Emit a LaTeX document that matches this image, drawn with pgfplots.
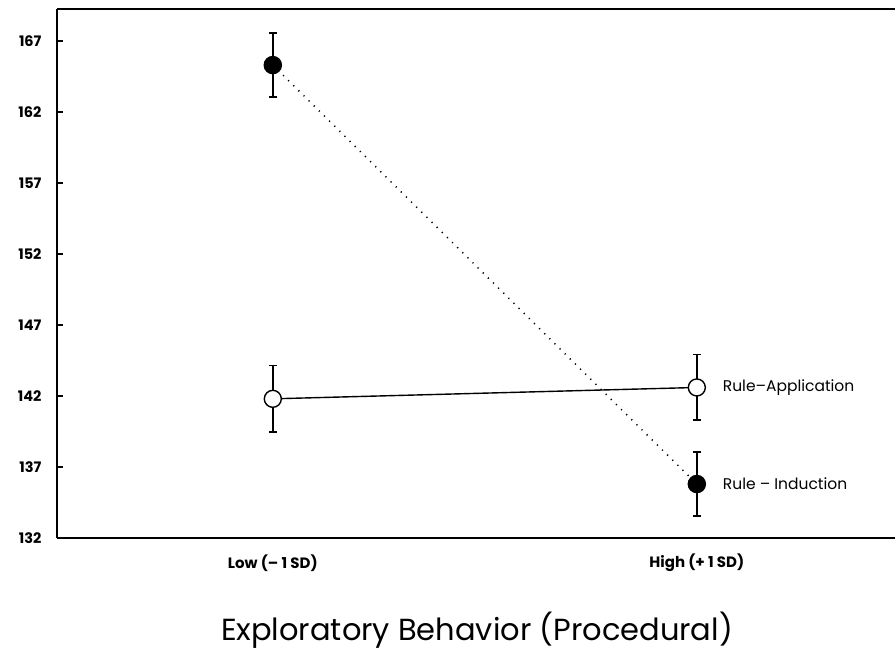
\documentclass[border=0pt]{standalone}
\usepackage{pgfplots}
\pgfplotsset{compat=1.18}
\usepackage{fontspec}
\setmainfont{Poppins}
\begin{document}
\begin{tikzpicture}
\begin{axis}[
  at={(0pt,0pt)}, anchor=south west,
  scale only axis, width=852pt, height=529pt,
  xmin=-0.509, xmax=1.5004, ymin=132, ymax=169.25,
  axis x line=box, axis y line=left,
  axis line style={-, line width=1.6pt},
  ytick={132,137,...,167},
  ytick align=inside,
  major tick length=6pt,
  y tick style={line width=1.2pt, black},
  xtick={0,1},
  xticklabels={Low (-- 1 SD), High (+ 1 SD)},
  x tick style={draw=none},
  /pgf/number format/assume math mode=true,
  yticklabel style={font=\bfseries\fontsize{14.5}{16}\selectfont, anchor=east, xshift=-12pt},
  xticklabel style={font=\bfseries\fontsize{15}{17}\selectfont, anchor=center, yshift=-25pt},
  xlabel={Exploratory Behavior (Procedural)},
  xlabel style={font=\fontsize{30.5}{34}\selectfont, at={(axis description cs:0.493,0)}, anchor=center, yshift=-92pt},
  clip=false,
]
\addplot[black, line width=1.4pt, mark=*, mark size=8.5pt,
  mark options={fill=white, line width=1.4pt, solid},
  error bars/.cd, y dir=both, y explicit,
  error bar style={line width=1.6pt, solid},
  error mark options={rotate=90, mark size=4pt, line width=1.4pt}]
  coordinates {(0,141.8) +- (0,2.35) (1,142.6) +- (0,2.3)}
  node[pos=1, anchor=west, xshift=22pt, font=\fontsize{15.5}{17}\selectfont] {Rule--Application};
\addplot[black, line width=1.5pt, dash pattern=on 1.2pt off 6pt, mark=*, mark size=8.5pt,
  mark options={fill=black, solid},
  error bars/.cd, y dir=both, y explicit,
  error bar style={line width=1.6pt, solid},
  error mark options={rotate=90, mark size=4pt, line width=1.4pt}]
  coordinates {(0,165.3) +- (0,2.25) (1,135.8) +- (0,2.25)}
  node[pos=1, anchor=west, xshift=22pt, font=\fontsize{15.5}{17}\selectfont] {Rule -- Induction};
\end{axis}
\pgfresetboundingbox
\path (-57pt,-112pt) rectangle (838pt,538pt);
\end{tikzpicture}
\end{document}
